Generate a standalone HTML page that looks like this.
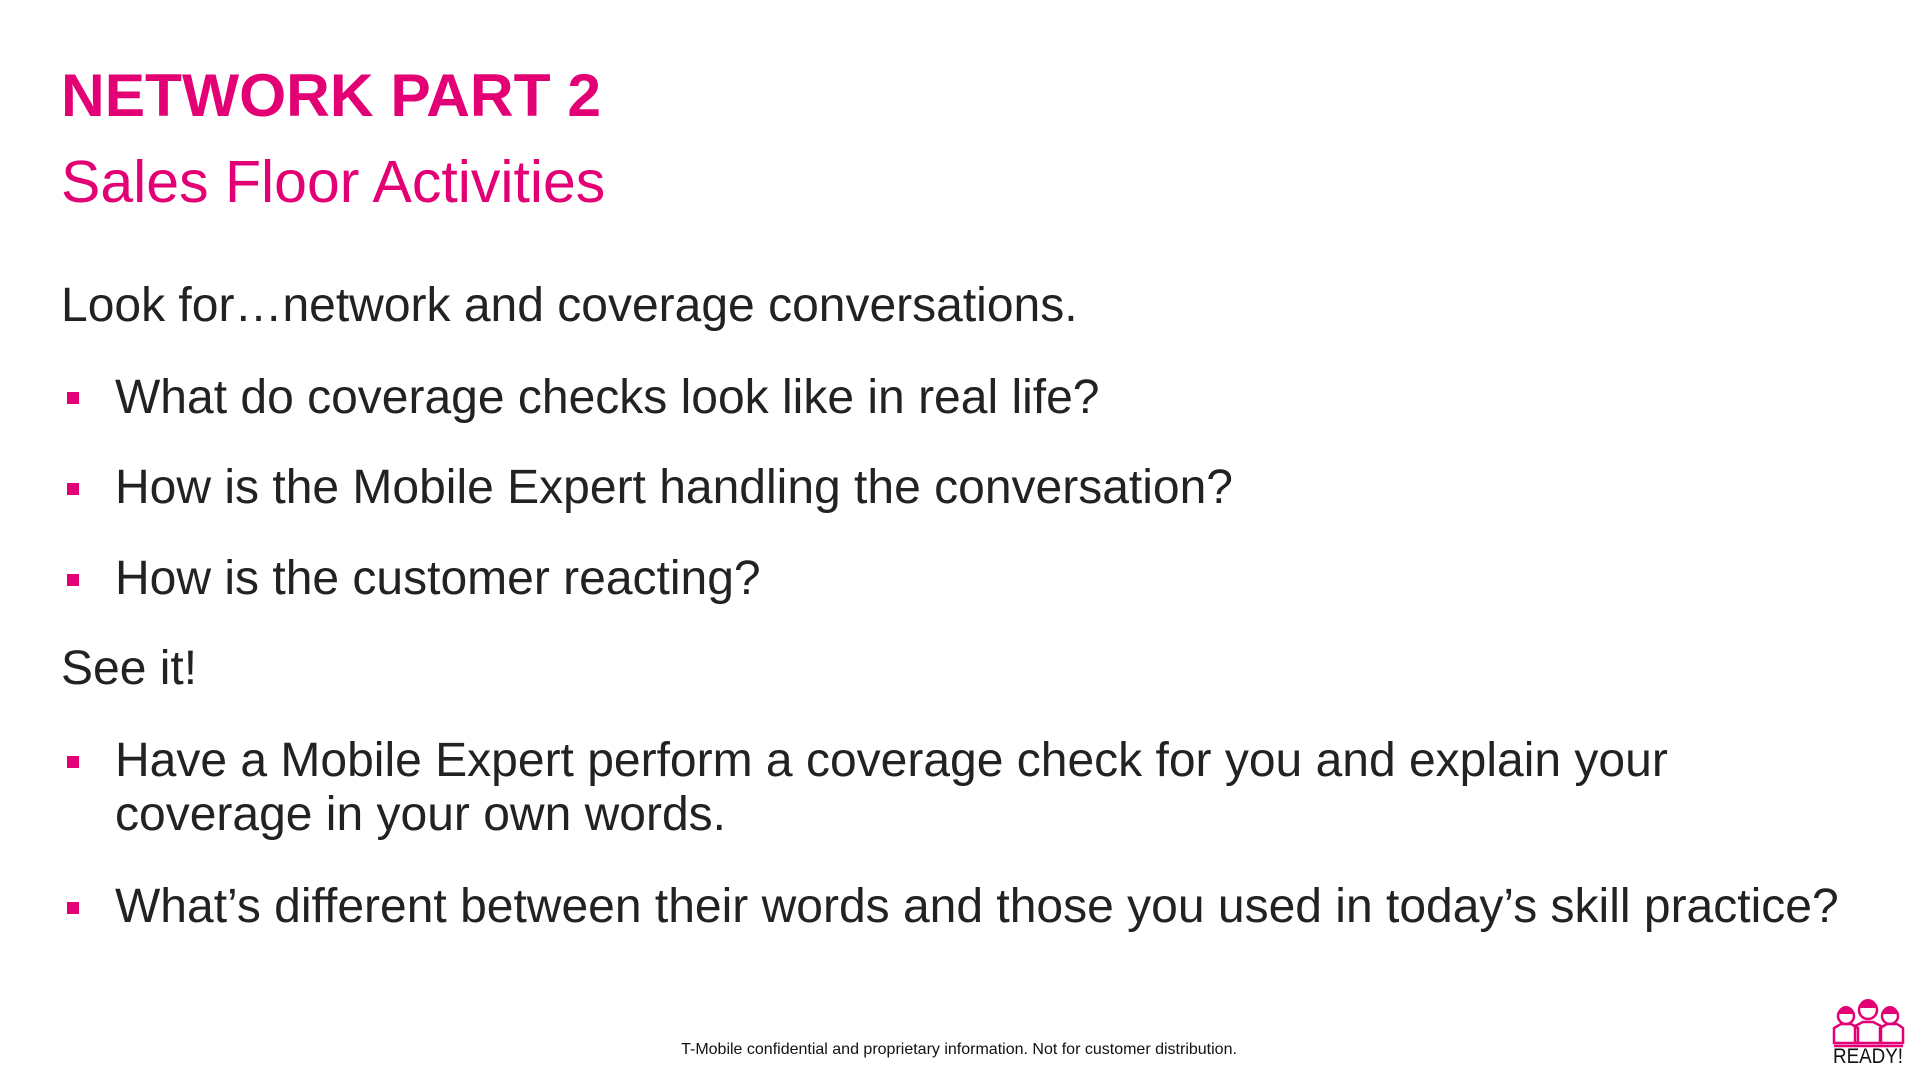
<!DOCTYPE html>
<html><head><meta charset="utf-8"><style>
html,body{margin:0;padding:0;background:#fff;}
svg{display:block;}
text{font-family:"Liberation Sans",Arial,sans-serif;}
</style></head><body>
<svg width="1920" height="1080" viewBox="0 0 1920 1080">
<rect width="1920" height="1080" fill="#fff"/>
<text x="61" y="116" font-size="60.5" font-weight="bold" fill="#E20074">NETWORK PART 2</text>
<text x="61" y="202" font-size="59" fill="#E20074">Sales Floor Activities</text>
<g fill="#222" font-size="48">
<text x="61" y="321">Look for…network and coverage conversations.</text>
<rect x="67" y="392" width="12" height="12" fill="#E20074"/>
<text x="115" y="413">What do coverage checks look like in real life?</text>
<rect x="67" y="483" width="12" height="12" fill="#E20074"/>
<text x="115" y="503">How is the Mobile Expert handling the conversation?</text>
<rect x="67" y="574" width="12" height="12" fill="#E20074"/>
<text x="115" y="594">How is the customer reacting?</text>
<text x="61" y="684">See it!</text>
<rect x="67" y="756" width="12" height="12" fill="#E20074"/>
<text x="115" y="776">Have a Mobile Expert perform a coverage check for you and explain your</text>
<text x="115" y="830">coverage in your own words.</text>
<rect x="67" y="902" width="12" height="12" fill="#E20074"/>
<text x="115" y="922">What’s different between their words and those you used in today’s skill practice?</text>
</g>
<text x="959" y="1054" font-size="16" fill="#111" text-anchor="middle">T-Mobile confidential and proprietary information. Not for customer distribution.</text>
<g fill="none" stroke="#E20074" stroke-width="2.5">
<circle cx="1846" cy="1016" r="8"/>
<path d="M1834 1043v-15l7-4h10l7 4v15z"/>
<circle cx="1868" cy="1010" r="9"/>
<path d="M1855 1043v-17l8-4h10l8 4v17z"/>
<circle cx="1890" cy="1016" r="8"/>
<path d="M1880 1043v-15l7-4h10l6 4v15z"/>
<path d="M1834 1046h69" />
</g>
<g fill="#E20074">
<path d="M1838 1014a8 8 0 0 1 16 0z"/><path d="M1859 1008a9 9 0 0 1 18 0z"/><path d="M1882 1014a8 8 0 0 1 16 0z"/>
</g>
<text x="1868" y="1063" font-size="21" fill="#111" text-anchor="middle" textLength="70" lengthAdjust="spacingAndGlyphs">READY!</text>
</svg>
</body></html>
